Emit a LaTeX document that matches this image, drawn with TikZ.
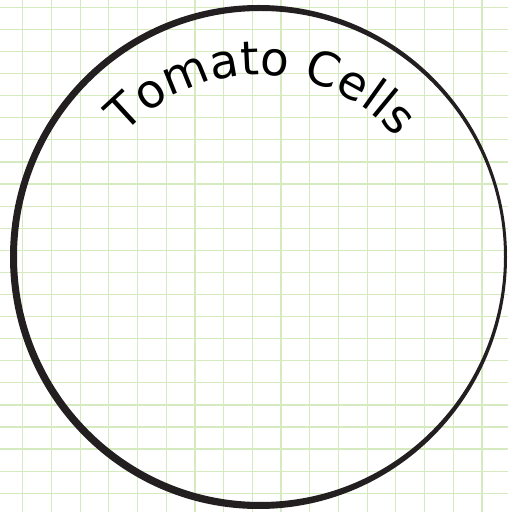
\documentclass[tikz,border=0pt]{standalone}
\usepackage{fontspec}
\newfontfamily\handfont{DejaVu Sans}
\usetikzlibrary{decorations.text}
\definecolor{gridgreen}{RGB}{214,234,192}
\definecolor{rimblack}{RGB}{35,31,32}
\begin{document}
\begin{tikzpicture}[x=1pt,y=1pt]
    % Page size
    \useasboundingbox (0,0) rectangle (508,512);
    \fill[white] (0,0) rectangle (508,512);

    % Graph paper
    \foreach \i in {0,...,16}
        \draw[gridgreen, line width=1.2pt] ({22.7+28.7*\i},0) -- ({22.7+28.7*\i},512);
    \foreach \j in {0,...,22}
        \draw[gridgreen, line width=1.2pt] (0,{504.7-22.09*\j}) -- (508,{504.7-22.09*\j});

    % Rim of the dish (thicker on the left)
    \fill[rimblack, even odd rule] (258.5,255) ellipse [x radius=248.5, y radius=252]
        (260.5,255.5) ellipse [x radius=243.5, y radius=245.5];

    % Title along the rim
    \path[decorate, decoration={text along path, text align=center,
        text={|\handfont\fontsize{47}{47}\selectfont|Tomato Cells}}]
        (259,255) ++(140:182) arc[start angle=140, end angle=38, radius=182];
\end{tikzpicture}
\end{document}
